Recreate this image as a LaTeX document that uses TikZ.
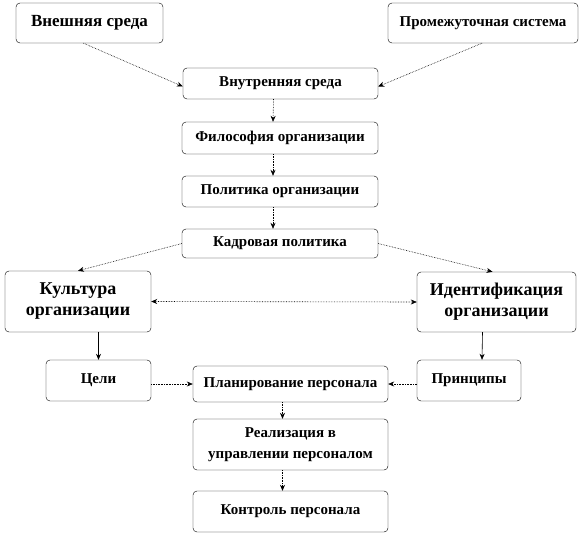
\documentclass[tikz,border=0pt]{standalone}
\usepackage{fontspec}
\setmainfont{Liberation Serif}
\usetikzlibrary{arrows.meta}
\tikzset{
  blok/.style  = {rectangle, rounded corners=4pt, draw, thin, fill=white, align=center, inner sep=1pt, font=\bfseries\fontsize{15}{21}\selectfont},
  bigblok/.style = {blok, font=\bfseries\fontsize{18}{21}\selectfont},
  strel/.style = {densely dotted, line width=0.6pt, -{Stealth[length=6pt,width=5pt]}},
  sstrel/.style = {line width=0.6pt, -{Stealth[length=6pt,width=5pt]}}
}

\begin{document}
\begin{tikzpicture}[x=1pt,y=-1pt]
  \useasboundingbox (0,0) rectangle (583,535);
  \node[bigblok, font=\bfseries\fontsize{17}{20}\selectfont, minimum width=147pt, minimum height=40pt] (ext) at ( 89.5, 23) {Внешняя среда};
  \node[blok, minimum width=190pt, minimum height=40pt]    (mid)   at (483,   23)  {Промежуточная система};
  \node[blok, minimum width=195pt, minimum height=31pt]    (inner) at (280.5, 83.5) {Внутренняя среда};
  \node[blok, minimum width=196pt, minimum height=32pt]    (phil)  at (280,  138)  {Философия организации};
  \node[blok, minimum width=196pt, minimum height=31pt]    (pol)   at (280,  191.5) {Политика организации};
  \node[blok, minimum width=196pt, minimum height=29pt]    (hr)    at (280,  243.5) {Кадровая политика};
  \node[bigblok, minimum width=146pt, minimum height=61pt] (cult)  at ( 78,  301.5) {Культура\\организации};
  \node[bigblok, minimum width=159pt, minimum height=60pt] (ident) at (496.5, 302)  {Идентификация\\организации};
  \node[blok, minimum width=105pt, minimum height=41pt]    (goals) at ( 98.5, 380.5) {Цели};
  \node[blok, minimum width=195pt, minimum height=36pt]    (plan)  at (290.5, 384)  {Планирование персонала};
  \node[blok, minimum width=104pt, minimum height=41pt]    (princ) at (469,  380.5) {Принципы};
  \node[blok, minimum width=195pt, minimum height=51pt]    (real)  at (290.5, 444.5) {Реализация в\\управлении персоналом};
  \node[blok, minimum width=195pt, minimum height=41pt]    (ctrl)  at (290.5, 511.5) {Контроль персонала};

  \draw[strel] ([xshift=-6pt]ext.south) -- ([yshift=-3pt]inner.west);
  \draw[strel] ([xshift=-1pt]mid.south) -- ([yshift=-3pt]inner.east);
  \draw[strel] ([xshift=-7pt]inner.south) -- ([xshift=-7pt]phil.north);
  \draw[strel] ([xshift=-7pt]phil.south) -- ([xshift=-7pt]pol.north);
  \draw[strel] ([xshift=-7pt]pol.south) -- ([xshift=-7pt]hr.north);
  \draw[strel] (hr.west) -- (cult.north);
  \draw[strel] (hr.east) -- ([xshift=-4pt]ident.north);
  \draw[strel, {Stealth[length=6pt,width=5pt]}-{Stealth[length=6pt,width=5pt]}] (cult.east) -- (ident.west);
  \draw[sstrel] (goals.north |- cult.south) -- (goals.north);
  \draw[sstrel] ([xshift=-14pt]ident.south) -- ([xshift=13pt]princ.north);
  \draw[strel] (plan.west -| goals.east) -- (plan.west);
  \draw[strel] (plan.east -| princ.west) -- (plan.east);
  \draw[strel] ([xshift=-8pt]plan.south) -- ([xshift=-8pt]real.north);
  \draw[strel] ([xshift=-8pt]real.south) -- ([xshift=-8pt]ctrl.north);
\end{tikzpicture}
\end{document}
